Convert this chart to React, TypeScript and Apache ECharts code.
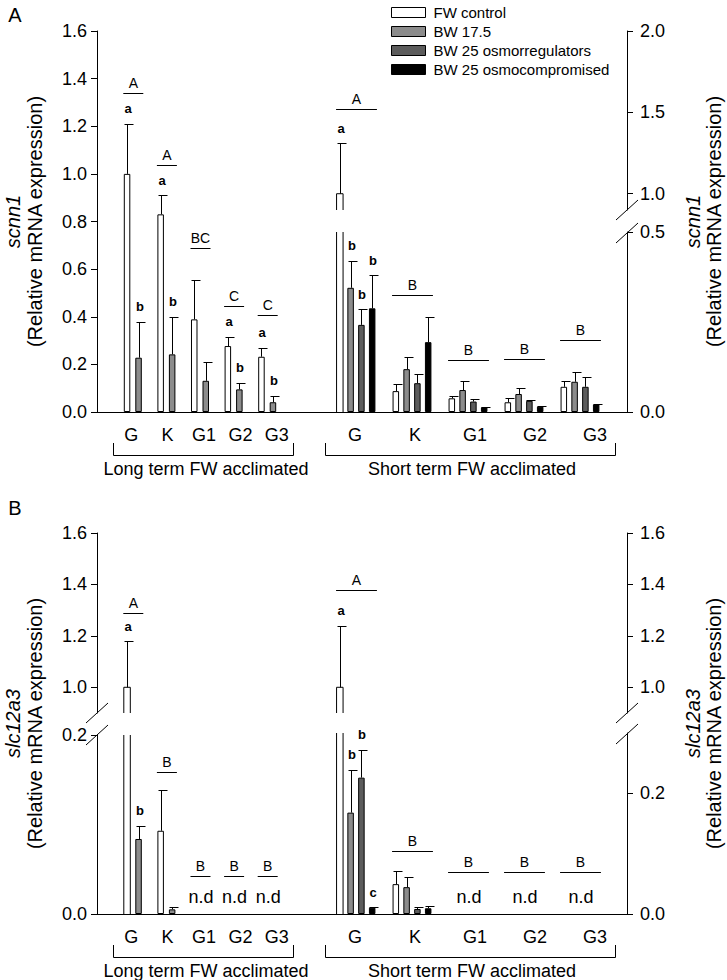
import React, { useEffect, useRef } from 'react';
import * as echarts from 'echarts';

const FONT = '"Liberation Sans", Arial, Helvetica, sans-serif';

const SERIES_NAMES = ['FW control', 'BW 17.5', 'BW 25 osmorregulators', 'BW 25 osmocompromised'];
const SERIES_COLORS = ['#ffffff', '#8c8c8c', '#5c5c5c', '#000000'];
const GROUPS = ['G', 'K', 'G1', 'G2', 'G3'];
const SECTION_TITLES = ['Long term FW acclimated', 'Short term FW acclimated'];

// ---------- Panel A : scnn1 ----------
const A_LONG_MEAN = [
  [1.0, 0.83, 0.389, 0.277, 0.232], // FW control
  [0.228, 0.242, 0.131, 0.095, 0.041], // BW 17.5
];
const A_LONG_ERR = [
  [1.21, 0.911, 0.554, 0.316, 0.27],
  [0.379, 0.4, 0.209, 0.123, 0.068],
];
const A_LONG_LETTERS = [
  ['a', 'a', '', 'a', 'a'],
  ['b', 'b', '', 'b', 'b'],
];
const A_LONG_GROUP = ['A', 'A', 'BC', 'C', 'C'];
const A_LONG_GROUP_LEVEL = [1.34, 1.037, 0.689, 0.445, 0.407];

const A_SHORT_MEAN = [
  [1.0, 0.058, 0.038, 0.027, 0.07],
  [0.345, 0.119, 0.061, 0.05, 0.084],
  [0.242, 0.08, 0.029, 0.031, 0.07],
  [0.288, 0.194, 0.013, 0.015, 0.021],
];
const A_SHORT_ERR = [
  [1.31, 0.077, 0.045, 0.04, 0.086],
  [0.42, 0.154, 0.087, 0.066, 0.112],
  [0.285, 0.106, 0.035, 0.033, 0.098],
  [0.38, 0.265, 0.014, 0.017, 0.022],
];
const A_SHORT_LETTERS = [
  ['a', '', '', '', ''],
  ['b', '', '', '', ''],
  ['b', '', '', '', ''],
  ['b', '', '', '', ''],
];
const A_SHORT_GROUP = ['A', 'B', 'B', 'B', 'B'];
const A_SHORT_GROUP_LEVEL = [1.52, 0.325, 0.144, 0.147, 0.2];

// ---------- Panel B : slc12a3 ----------
const B_LONG_MEAN = [
  [1.0, 0.093, null, null, null],
  [0.0838, 0.0052, null, null, null],
];
const B_LONG_ERR = [
  [1.18, 0.1385, null, null, null],
  [0.0987, 0.008, null, null, null],
];
const B_LONG_LETTERS = [
  ['a', '', '', '', ''],
  ['b', '', '', '', ''],
];
const B_LONG_GROUP = ['A', 'B', 'B', 'B', 'B'];
const B_LONG_GROUP_LEVEL = [1.29, 0.159, 0.0425, 0.0425, 0.0425];
const B_LONG_ND = ['', '', 'n.d', 'n.d', 'n.d'];

const B_SHORT_MEAN = [
  [1.0, 0.0495, null, null, null],
  [0.168, 0.0445, null, null, null],
  [0.226, 0.0083, null, null, null],
  [0.0105, 0.0095, null, null, null],
];
const B_SHORT_ERR = [
  [1.24, 0.0705, null, null, null],
  [0.239, 0.061, null, null, null],
  [0.272, 0.012, null, null, null],
  [0.011, 0.014, null, null, null],
];
const B_SHORT_LETTERS = [
  ['a', '', '', '', ''],
  ['b', '', '', '', ''],
  ['b', '', '', '', ''],
  ['c', '', '', '', ''],
];
const B_SHORT_GROUP = ['A', 'B', 'B', 'B', 'B'];
const B_SHORT_GROUP_LEVEL = [1.377, 0.104, 0.069, 0.069, 0.069];
const B_SHORT_ND = ['', '', 'n.d', 'n.d', 'n.d'];

// ---------- tick values ----------
const A_LEFT_TICKS = [0, 0.2, 0.4, 0.6, 0.8, 1.0, 1.2, 1.4, 1.6];
const A_RIGHT_TICKS_LOW = [0, 0.5];
const A_RIGHT_TICKS_HIGH = [1.0, 1.5, 2.0];
const B_LEFT_TICKS_LOW = [0, 0.2];
const B_LEFT_TICKS_HIGH = [1.0, 1.2, 1.4, 1.6];
const B_RIGHT_TICKS_LOW = [0, 0.2];
const B_RIGHT_TICKS_HIGH = [1.0, 1.2, 1.4, 1.6];

const BLACK = '#000';

function buildOption() {
  const grid: any[] = [];
  const xAxis: any[] = [];
  const yAxis: any[] = [];
  const series: any[] = [];
  const graphic: any[] = [];
  const lineStyle = { color: BLACK, width: 1 };

  const addGrid = (rect: any, x: any, y: any) => {
    const i = grid.length;
    grid.push({ ...rect, containLabel: false });
    xAxis.push({ gridIndex: i, ...x });
    yAxis.push({ gridIndex: i, ...y });
    return i;
  };

  const hiddenCat = { type: 'category', data: GROUPS, show: false, boundaryGap: true };
  const fmt = (v: number) => v.toFixed(1);

  const visY = (min: number, max: number, ticks: number[], position: string) => ({
    type: 'value',
    min,
    max,
    position,
    offset: 19,
    axisLine: { show: true, onZero: false, lineStyle },
    axisTick: { show: true, length: 6, customValues: ticks, lineStyle },
    axisLabel: {
      show: true,
      customValues: ticks,
      formatter: fmt,
      margin: position === 'left' ? 10 : 13,
      fontSize: 18,
      color: BLACK,
      fontFamily: FONT,
    },
    splitLine: { show: false },
  });

  const section = (sec: any) => {
    const n = sec.means.length;
    const gapPx = sec.bw * sec.gapPct;
    const step = sec.bw + gapPx;
    const half = (n * sec.bw + (n - 1) * gapPx) / 2 + 0.5;
    sec.segs.forEach((seg: any) => {
      const isUpper = seg.min > 0;
      const gi = addGrid(
        { left: sec.left, width: sec.width, top: seg.top, height: seg.bottom - seg.top },
        hiddenCat,
        visY(seg.min, seg.max, seg.ticks, sec.pos)
      );
      // whole bars (fully inside this segment)
      sec.means.forEach((vals: (number | null)[], k: number) => {
        series.push({
          type: 'bar',
          name: SERIES_NAMES[k],
          xAxisIndex: gi,
          yAxisIndex: gi,
          barWidth: sec.bw,
          barGap: sec.gapPct * 100 + '%',
          clip: true,
          silent: true,
          itemStyle: { color: SERIES_COLORS[k], borderColor: BLACK, borderWidth: 1 },
          data: vals.map((v) => (v == null || isUpper || v > seg.max ? '-' : v)),
        });
      });
      // broken bar pieces (open at the axis break)
      const pieces: any[] = [];
      sec.means.forEach((vals: (number | null)[], k: number) => {
        vals.forEach((v, c) => {
          if (v == null) return;
          if (isUpper && v >= seg.min && v <= seg.max) pieces.push({ c, k, bot: seg.min, top: v, upper: true });
          if (!isUpper && v > seg.max) pieces.push({ c, k, bot: 0, top: seg.max, upper: false });
        });
      });
      series.push({
        type: 'custom',
        xAxisIndex: gi,
        yAxisIndex: gi,
        silent: true,
        z: 2,
        data: pieces.map((p) => [p.c, p.top]),
        encode: { x: 0, y: 1 },
        renderItem: (params: any, api: any) => {
          const p = pieces[params.dataIndex];
          const pt = api.coord([p.c, p.top]);
          const pb = api.coord([p.c, p.bot]);
          const cx = pt[0] + (p.k - (n - 1) / 2) * step;
          const x0 = cx - sec.bw / 2;
          const x1 = cx + sec.bw / 2;
          const s = { stroke: BLACK, lineWidth: 1, fill: 'none' };
          const children: any[] = [
            { type: 'rect', shape: { x: x0, y: pt[1], width: sec.bw, height: pb[1] - pt[1] }, style: { fill: SERIES_COLORS[p.k] } },
          ];
          if (p.upper) {
            children.push({ type: 'polyline', shape: { points: [[x0, pb[1]], [x0, pt[1]], [x1, pt[1]], [x1, pb[1]]] }, style: s });
          } else {
            children.push({ type: 'line', shape: { x1: x0, y1: pb[1], x2: x0, y2: pt[1] }, style: s });
            children.push({ type: 'line', shape: { x1: x1, y1: pb[1], x2: x1, y2: pt[1] }, style: s });
          }
          return { type: 'group', children };
        },
      });
      // error bars + lowercase letters
      const items: any[] = [];
      sec.means.forEach((vals: (number | null)[], k: number) => {
        vals.forEach((m, c) => {
          if (m == null || m < seg.min || m > seg.max) return;
          items.push({ c, k, m, e: sec.errs[k][c], t: sec.letters[k][c] });
        });
      });
      series.push({
        type: 'custom',
        xAxisIndex: gi,
        yAxisIndex: gi,
        silent: true,
        z: 3,
        data: items.map((it) => [it.c, it.m, it.e]),
        encode: { x: 0, y: 1 },
        renderItem: (params: any, api: any) => {
          const it = items[params.dataIndex];
          const p0 = api.coord([it.c, it.m]);
          const p1 = api.coord([it.c, it.e]);
          const cx = Math.round(p0[0] + (it.k - (n - 1) / 2) * step) + 0.5;
          const yT = Math.round(p1[1]) + 0.5;
          const children: any[] = [
            { type: 'line', shape: { x1: cx, y1: p0[1], x2: cx, y2: yT }, style: { stroke: BLACK, lineWidth: 1 } },
            { type: 'line', shape: { x1: cx - 3, y1: yT, x2: cx + 6, y2: yT }, style: { stroke: BLACK, lineWidth: 1 } },
          ];
          if (it.t) {
            children.push({
              type: 'text',
              x: cx + 0.5,
              y: p1[1] - 15,
              style: { text: it.t, fill: BLACK, fontSize: 13, fontWeight: 'bold', fontFamily: FONT, align: 'center', verticalAlign: 'middle' },
            });
          }
          return { type: 'group', children };
        },
      });
      // group lines + uppercase letters + n.d
      const ann: any[] = [];
      sec.groupLevels.forEach((v: number, c: number) => {
        if (v >= seg.min && v <= seg.max) ann.push({ c, v, t: sec.groupLetters[c], kind: 'line' });
      });
      if (!isUpper && sec.nd) {
        sec.nd.forEach((t: string, c: number) => {
          if (t) ann.push({ c, v: 0, t, kind: 'nd' });
        });
      }
      series.push({
        type: 'custom',
        xAxisIndex: gi,
        yAxisIndex: gi,
        silent: true,
        z: 3,
        data: ann.map((a) => [a.c, a.v]),
        encode: { x: 0, y: 1 },
        renderItem: (params: any, api: any) => {
          const a = ann[params.dataIndex];
          const p = api.coord([a.c, a.v]);
          if (a.kind === 'nd') {
            return {
              type: 'text',
              x: p[0] + 1,
              y: p[1] - 17,
              style: { text: a.t, fill: BLACK, fontSize: 18, fontFamily: FONT, align: 'center', verticalAlign: 'middle' },
            };
          }
          const y = Math.round(p[1]) + 0.5;
          return {
            type: 'group',
            children: [
              { type: 'line', shape: { x1: p[0] - half, y1: y, x2: p[0] + half + 1, y2: y }, style: { stroke: BLACK, lineWidth: 1 } },
              {
                type: 'text',
                x: p[0] + 0.5,
                y: p[1] - 10,
                style: { text: a.t, fill: BLACK, fontSize: 14, fontFamily: FONT, align: 'center', verticalAlign: 'middle' },
              },
            ],
          };
        },
      });
    });
  };

  const panel = (p: any) => {
    const { top, base } = p;
    // frame: continuous x baseline
    addGrid(
      { left: 97, width: 530, top, height: base - top },
      {
        type: 'value', min: 0, max: 1,
        axisLine: { show: true, onZero: false, lineStyle },
        axisTick: { show: false }, axisLabel: { show: false }, splitLine: { show: false },
      },
      { type: 'value', min: 0, max: 1, show: false, splitLine: { show: false } }
    );
    section({
      left: 116, width: 168, bw: 6.5, gapPct: 0.77, pos: 'left',
      means: p.longMean, errs: p.longErr, letters: p.longLetters,
      groupLetters: p.longGroup, groupLevels: p.longGroupLevel, nd: p.longNd,
      segs: p.longSegs,
    });
    section({
      left: 328, width: 280, bw: 6.5, gapPct: 0.66, pos: 'right',
      means: p.shortMean, errs: p.shortErr, letters: p.shortLetters,
      groupLetters: p.shortGroup, groupLevels: p.shortGroupLevel, nd: p.shortNd,
      segs: p.shortSegs,
    });
    // category labels
    const labAxis = {
      type: 'category', data: GROUPS, boundaryGap: true,
      axisLine: { show: false }, axisTick: { show: false }, splitLine: { show: false },
      axisLabel: { interval: 0, margin: 14, fontSize: 18, color: BLACK, fontFamily: FONT },
    };
    const hidV = { type: 'value', min: 0, max: 1, show: false, splitLine: { show: false } };
    addGrid({ left: 113, width: 182, top, height: base - top }, labAxis, hidV);
    addGrid({ left: 325, width: 300, top, height: base - top }, labAxis, hidV);

    // brackets + section titles
    const bY = base + 43;
    const tY = base + 31;
    [[113, 293], [325, 615]].forEach(([x1, x2], i) => {
      graphic.push({
        type: 'polyline',
        shape: { points: [[x1 + 0.5, tY], [x1 + 0.5, bY + 0.5], [x2 + 0.5, bY + 0.5], [x2 + 0.5, tY]] },
        style: { stroke: BLACK, lineWidth: 1, fill: 'none' },
      });
      graphic.push({
        type: 'text',
        x: i === 0 ? 206 : 472,
        y: base + 57,
        style: { text: SECTION_TITLES[i], fill: BLACK, fontSize: 18, fontFamily: FONT, align: 'center', verticalAlign: 'middle' },
      });
    });

    // axis titles
    const mid = (top + base) / 2;
    [[13, 35], [693, 714]].forEach(([xg, xr]) => {
      graphic.push({
        type: 'text', x: xg, y: mid, rotation: Math.PI / 2,
        style: { text: p.gene, fill: BLACK, fontSize: 20, fontStyle: 'italic', fontFamily: FONT, align: 'center', verticalAlign: 'middle' },
      });
      graphic.push({
        type: 'text', x: xr, y: mid, rotation: Math.PI / 2,
        style: { text: '(Relative mRNA expression)', fill: BLACK, fontSize: 20, fontFamily: FONT, align: 'center', verticalAlign: 'middle' },
      });
    });

    // panel letter
    graphic.push({
      type: 'text', x: 15, y: p.letterY,
      style: { text: p.letter, fill: BLACK, fontSize: 20, fontFamily: FONT, align: 'center', verticalAlign: 'middle' },
    });

    // break marks
    p.breaks.forEach(([x, y]: number[]) => {
      graphic.push({
        type: 'line',
        shape: { x1: x - 11, y1: y + 10, x2: x + 11, y2: y - 10 },
        style: { stroke: BLACK, lineWidth: 1 },
      });
    });
  };

  panel({
    letter: 'A', letterY: 15, gene: 'scnn1', top: 31, base: 412,
    longMean: A_LONG_MEAN, longErr: A_LONG_ERR, longLetters: A_LONG_LETTERS,
    longGroup: A_LONG_GROUP, longGroupLevel: A_LONG_GROUP_LEVEL, longNd: null,
    longSegs: [{ min: 0, max: 1.6, top: 31, bottom: 412, ticks: A_LEFT_TICKS }],
    shortMean: A_SHORT_MEAN, shortErr: A_SHORT_ERR, shortLetters: A_SHORT_LETTERS,
    shortGroup: A_SHORT_GROUP, shortGroupLevel: A_SHORT_GROUP_LEVEL, shortNd: null,
    shortSegs: [
      { min: 0, max: 0.5, top: 232, bottom: 412, ticks: A_RIGHT_TICKS_LOW },
      { min: 0.9, max: 2.0, top: 31, bottom: 210, ticks: A_RIGHT_TICKS_HIGH },
    ],
    breaks: [[627, 210], [627, 233]],
  });

  panel({
    letter: 'B', letterY: 508, gene: 'slc12a3', top: 533, base: 914,
    longMean: B_LONG_MEAN, longErr: B_LONG_ERR, longLetters: B_LONG_LETTERS,
    longGroup: B_LONG_GROUP, longGroupLevel: B_LONG_GROUP_LEVEL, longNd: B_LONG_ND,
    longSegs: [
      { min: 0, max: 0.2, top: 735, bottom: 914, ticks: B_LEFT_TICKS_LOW },
      { min: 0.9, max: 1.6, top: 533, bottom: 713, ticks: B_LEFT_TICKS_HIGH },
    ],
    shortMean: B_SHORT_MEAN, shortErr: B_SHORT_ERR, shortLetters: B_SHORT_LETTERS,
    shortGroup: B_SHORT_GROUP, shortGroupLevel: B_SHORT_GROUP_LEVEL, shortNd: B_SHORT_ND,
    shortSegs: [
      { min: 0, max: 0.3, top: 733, bottom: 914, ticks: B_RIGHT_TICKS_LOW },
      { min: 0.9, max: 1.6, top: 533, bottom: 713, ticks: B_RIGHT_TICKS_HIGH },
    ],
    breaks: [[97, 713], [97, 735], [627, 713], [627, 734]],
  });

  return {
    animation: false,
    backgroundColor: '#ffffff',
    textStyle: { fontFamily: FONT, color: BLACK },
    legend: {
      orient: 'vertical',
      left: 386,
      top: 0,
      itemWidth: 34,
      itemHeight: 10,
      itemGap: 4,
      icon: 'rect',
      selectedMode: false,
      textStyle: { fontSize: 15, color: BLACK, fontFamily: FONT, padding: [0, 0, 0, 3] },
      data: SERIES_NAMES.map((name, i) => ({
        name,
        itemStyle: { color: SERIES_COLORS[i], borderColor: BLACK, borderWidth: 1 },
      })),
    },
    grid,
    xAxis,
    yAxis,
    series,
    graphic,
  };
}

export default function App() {
  const ref = useRef<HTMLDivElement>(null);
  useEffect(() => {
    document.body.style.margin = '0';
    const chart = echarts.init(ref.current!, null, { renderer: 'svg' });
    chart.setOption(buildOption() as any);
    return () => chart.dispose();
  }, []);
  return <div ref={ref} style={{ width: 727, height: 980 }} />;
}
